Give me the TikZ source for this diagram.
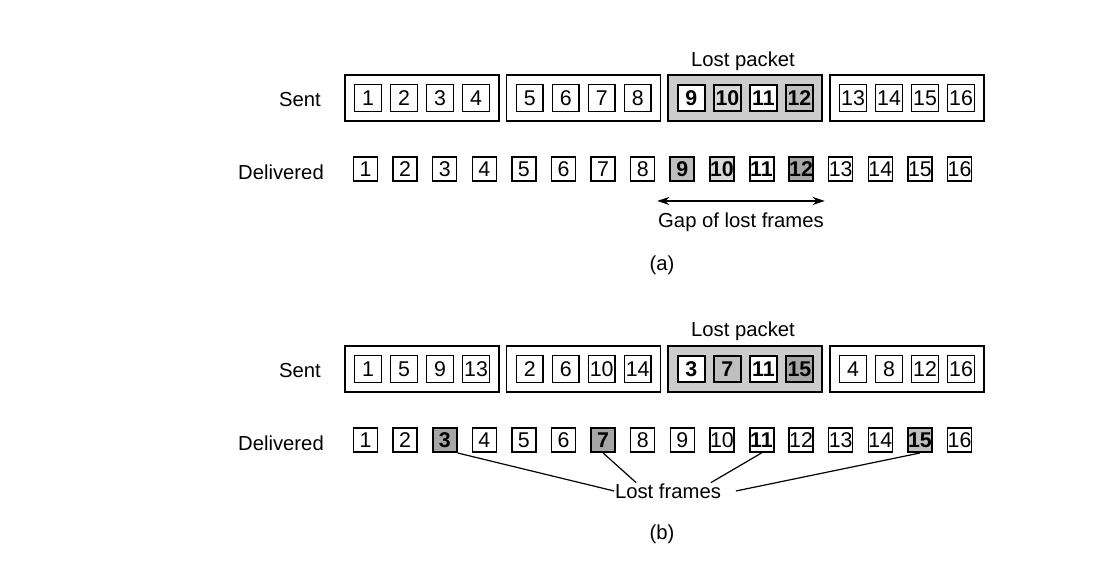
\documentclass[tikz,border=0pt]{standalone}
\usepackage{fontspec}
\setmainfont{Liberation Sans}
\usetikzlibrary{arrows.meta,calc}
\newcommand{\figfont}{\fontsize{15.2}{18}\selectfont}
\newcommand{\numfont}{\fontsize{16}{18}\selectfont}

\begin{document}
\begin{tikzpicture}[x=0.75pt,y=-0.75pt]
    % Frames packed four to a packet; the third packet is lost.
    % (a) frames sent in order, (b) frames interleaved over the packets.

    \tikzset{
      lbl/.style={font=\figfont, inner sep=0.5pt},
      pkt/.style={draw, line width=1.1pt, minimum width=115.5pt, minimum height=34.5pt, inner sep=0pt},
      lostpkt/.style={pkt, line width=1.5pt, fill=gray!40},
      sq/.style={draw, fill=white, line width=1pt, inner sep=0pt, font=\numfont},
      ssq/.style={sq, minimum width=20pt, minimum height=20pt},
      dsq/.style={sq, minimum width=18pt, minimum height=18pt},
      okf/.style={},
      lostw/.style={line width=1.5pt, font=\numfont\bfseries},
      lostl/.style={lostw, fill=gray!30},
      lostm/.style={lostw, fill=gray!50},
      lostd/.style={lostw, fill=gray!70},
      gaparrow/.style={{Stealth[length=9pt,width=6pt]}-{Stealth[length=9pt,width=6pt]}, line width=0.9pt},
      pointer/.style={line width=0.9pt}
    }

    \useasboundingbox (0,0) rectangle (1114,570);

    % --- Panel (a): frames sent in order, a lost packet leaves a gap
    \begin{scope}[shift={(0,0)}]
      \node[lbl] (asent) at (300,100) {Sent};
      \node[lbl] (adel) at (281,172) {Delivered};
      \node[lbl] (alost) at (743,61) {Lost packet};
      \foreach \g/\s in {1/pkt,2/pkt,3/lostpkt,4/pkt}
        \node[\s] (ap\g) at ({422+161.7*(\g-1)},98) {};
      \foreach \n/\s [count=\i from 0] in {1/okf,2/okf,3/okf,4/okf,5/okf,6/okf,7/okf,8/okf,
          9/lostw,10/lostl,11/lostw,12/lostm,13/okf,14/okf,15/okf,16/okf}
        \node[ssq,\s] (as\n) at ({422+161.7*int(\i/4)+36*(mod(\i,4)-1.5)},98) {\n};
      \foreach \s [count=\i] in {okf,okf,okf,okf,okf,okf,okf,okf,
          lostm,lostl,lostw,lostd,okf,okf,okf,okf}
        \node[dsq,\s] (ad\i) at ({365.5+39.6*(\i-1)},169) {\i};
      \node[lbl] (gap) at (741,222) {Gap of lost frames};
      \draw[gaparrow] ([yshift=8pt]gap.north west) -- ([yshift=8pt]gap.north east);
      \node[lbl] (acap) at (662,265) {(a)};
    \end{scope}

    % --- Panel (b): frames interleaved, the lost frames are scattered
    \begin{scope}[shift={(0,271)}]
      \node[lbl] (bsent) at (300,100) {Sent};
      \node[lbl] (bdel) at (281,172) {Delivered};
      \node[lbl] (blost) at (743,60) {Lost packet};
      \foreach \g/\s in {1/pkt,2/pkt,3/lostpkt,4/pkt}
        \node[\s] (bp\g) at ({422+161.7*(\g-1)},98) {};
      \foreach \n/\s [count=\i from 0] in {1/okf,5/okf,9/okf,13/okf,2/okf,6/okf,10/okf,14/okf,
          3/lostw,7/lostm,11/lostw,15/lostd,4/okf,8/okf,12/okf,16/okf}
        \node[ssq,\s] (bs\n) at ({422+161.7*int(\i/4)+36*(mod(\i,4)-1.5)},98) {\n};
      \foreach \s [count=\i] in {okf,okf,lostd,okf,okf,okf,lostd,okf,
          okf,okf,lostw,okf,okf,okf,lostm,okf}
        \node[dsq,\s] (bd\i) at ({365.5+39.6*(\i-1)},169) {\i};
      \node[lbl] (lf) at (668,220) {Lost frames};
      \draw[pointer] (bd3.south east) -- (lf.west);
      \draw[pointer] (bd7.south) -- ($(lf.north west)+(22,0)$);
      \draw[pointer] (bd11.south) -- ($(lf.north east)+(-11,0)$);
      \draw[pointer] (bd15.south) -- ($(lf.east)+(14,0)$);
      \node[lbl] (bcap) at (662,263) {(b)};
    \end{scope}
  \end{tikzpicture}
\end{document}
